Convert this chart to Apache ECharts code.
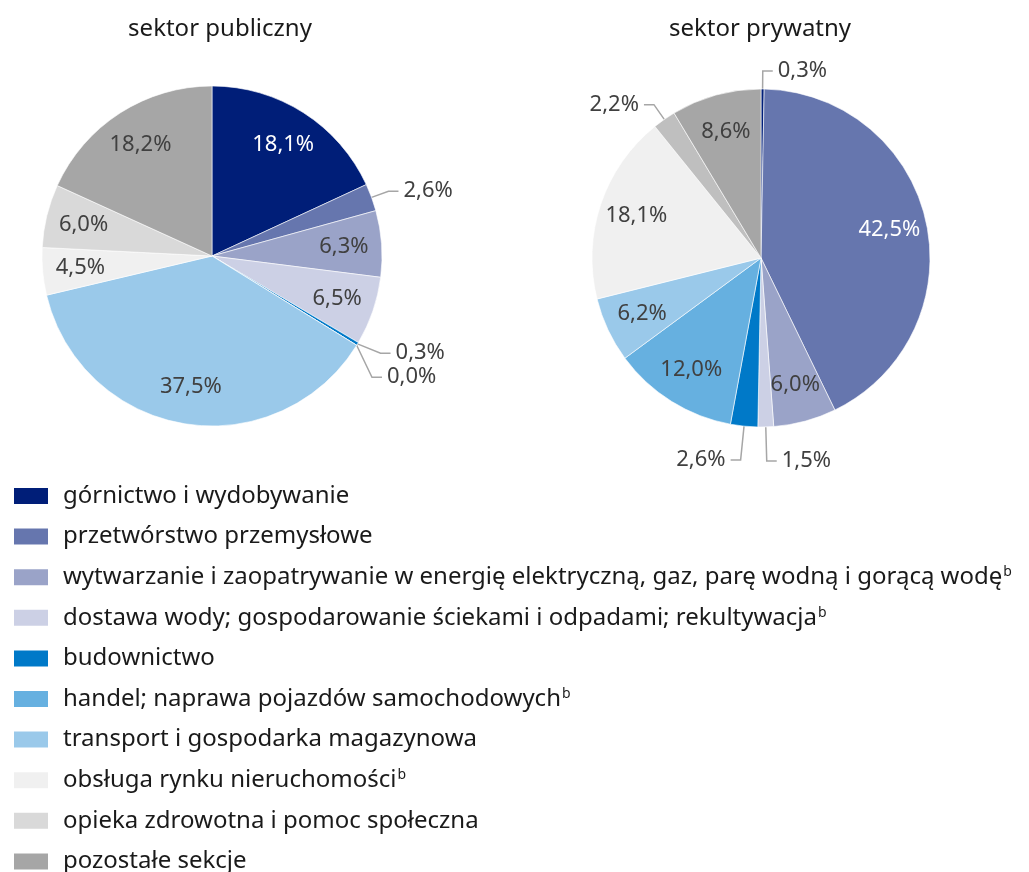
<!DOCTYPE html>
<html lang="pl">
<head>
    <meta http-equiv="Content-Type" content="text/html; charset=UTF-8">
    <title>ECharts</title>
    <script type="text/javascript" src="https://cdn.jsdelivr.net/npm/echarts@6/dist/echarts.min.js"></script>
    <style>
        body { margin: 0; background: #fff; }
    </style>
</head>
<body>
    <div id="wykres" style="width: 1029px;height:872px;"></div>
    <script type="text/javascript">
        // dane: udział sekcji (%)
        var kategorie = [
            'górnictwo i wydobywanie',
            'przetwórstwo przemysłowe',
            'wytwarzanie i zaopatrywanie w energię elektryczną, gaz, parę wodną i gorącą wodę',
            'dostawa wody; gospodarowanie ściekami i odpadami; rekultywacja',
            'budownictwo',
            'handel; naprawa pojazdów samochodowych',
            'transport i gospodarka magazynowa',
            'obsługa rynku nieruchomości',
            'opieka zdrowotna i pomoc społeczna',
            'pozostałe sekcje'
        ];
        var publiczny = [18.1, 2.6, 6.3, 6.5, 0.3, 0.0, 37.5, 4.5, 6.0, 18.2];
        var prywatny = [0.3, 42.5, 6.0, 1.5, 2.6, 12.0, 6.2, 18.1, 2.2, 8.6];
        var przypisB = [2, 3, 5, 7]; // pozycje z odsyłaczem "b"

        var kolory = ['#001E78', '#6676AE', '#9AA3C8', '#CCD0E5', '#0079C8',
                      '#66B0E0', '#9AC9EA', '#F0F0F0', '#D9D9D9', '#A6A6A6'];
        var koloryEtykiet = ['#fff', '#fff', '#404040', '#404040', '#fff',
                             '#404040', '#404040', '#404040', '#404040', '#404040'];
        var czcionka = 'Noto Sans';

        function fmt(v) {
            return v.toFixed(1).replace('.', ',') + '%';
        }

        // male wycinki - etykieta na zewnatrz
        function dane(wartosci, zewn, nadpisz) {
            var suma = 0;
            return wartosci.map(function (v, i) {
                var srodekKata = (suma + v / 2) * 3.6; // stopnie od gory, zgodnie z zegarem
                suma += v;
                var d = {
                    name: kategorie[i],
                    value: v,
                    label: { show: zewn ? v < 3 : v >= 3 },
                    labelLine: { show: zewn && v < 3 }
                };
                if (!zewn) {
                    d.label.color = koloryEtykiet[i];
                } else {
                    if (nadpisz && nadpisz[i]) d.itemStyle = { color: nadpisz[i] };
                    // wycinki na dole - dluzsza linia odniesienia
                    if (srodekKata > 150 && srodekKata < 210) d.labelLine.length = 34;
                }
                return d;
            });
        }

        function kolo(wartosci, srodek, r, nadpisz) {
            return [{
                type: 'pie',
                center: srodek,
                radius: r,
                startAngle: 90,
                clockwise: true,
                silent: true,
                itemStyle: { borderColor: '#fff', borderWidth: 0.6 },
                label: {
                    position: 'outside',
                    fontFamily: czcionka,
                    fontSize: 22,
                    color: '#404040',
                    formatter: function (p) { return fmt(p.value); }
                },
                labelLine: {
                    length: 18,
                    length2: 10,
                    smooth: false,
                    lineStyle: { color: '#A6A6A6', width: 1.5 }
                },
                data: dane(wartosci, true, nadpisz)
            }, {
                // warstwa przezroczysta - tylko etykiety wewnatrz
                type: 'pie',
                center: srodek,
                radius: [r * 0.52, r],
                startAngle: 90,
                clockwise: true,
                silent: true,
                itemStyle: { color: 'rgba(0,0,0,0)' },
                label: {
                    position: 'inside',
                    fontFamily: czcionka,
                    fontSize: 22,
                    formatter: function (p) { return fmt(p.value); }
                },
                labelLine: { show: false },
                data: dane(wartosci, false)
            }];
        }

        var chart = echarts.init(document.getElementById('wykres'));
        var nadpiszPrywatny = [];
        nadpiszPrywatny[8] = '#BFBFBF';

        chart.setOption({
            animation: false,
            color: kolory,
            title: [{
                text: 'sektor publiczny',
                left: 215,
                top: 12,
                textAlign: 'center',
                textStyle: { fontFamily: czcionka, fontSize: 24, fontWeight: 'normal', color: '#1a1a1a' }
            }, {
                text: 'sektor prywatny',
                left: 755,
                top: 12,
                textAlign: 'center',
                textStyle: { fontFamily: czcionka, fontSize: 24, fontWeight: 'normal', color: '#1a1a1a' }
            }],
            legend: {
                orient: 'vertical',
                left: 12,
                top: 484,
                height: 420,
                padding: 0,
                itemWidth: 36,
                itemHeight: 18,
                itemGap: 16.6,
                selectedMode: false,
                icon: 'rect',
                data: kategorie.map(function (k, i) {
                    return { name: k, itemStyle: { color: kolory[i] } };
                }),
                formatter: function (name) {
                    return przypisB.indexOf(kategorie.indexOf(name)) >= 0 ? name + '{sup|b}' : name;
                },
                textStyle: {
                    fontFamily: czcionka,
                    fontSize: 24,
                    color: '#1a1a1a',
                    padding: [0, 0, 0, 9],
                    rich: {
                        sup: { fontFamily: czcionka, fontSize: 14, color: '#1a1a1a', verticalAlign: 'top', padding: [0, 0, 10, 1] }
                    }
                }
            },
            series: kolo(publiczny, [212, 256], 170).concat(kolo(prywatny, [761, 258], 169, nadpiszPrywatny))
        });
    </script>
</body>
</html>
